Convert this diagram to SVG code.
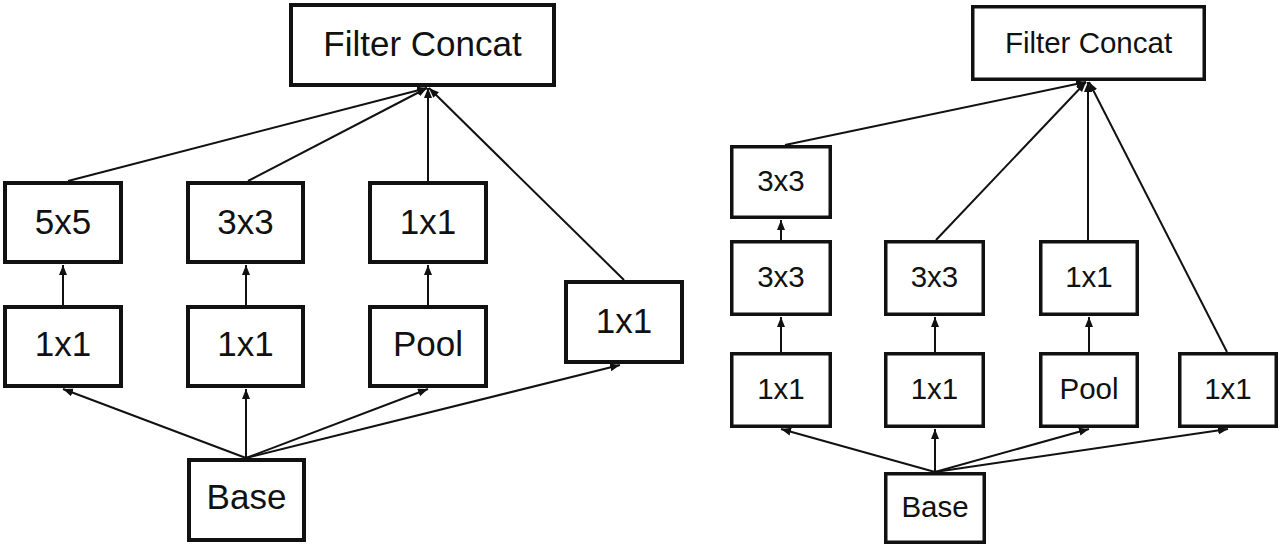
<svg xmlns="http://www.w3.org/2000/svg" width="1281" height="547" viewBox="0 0 1281 547">
  <style>
    .bg { fill: #ffffff; }
    .boxL { fill: #ffffff; stroke: #111; stroke-width: 4; }
    .boxR { fill: #ffffff; stroke: #111; stroke-width: 3.5; }
    .lblL { font-family: "Liberation Sans", Arial, sans-serif; font-size: 35px; fill: #111; text-anchor: middle; }
    .lblR { font-family: "Liberation Sans", Arial, sans-serif; font-size: 29.5px; fill: #111; text-anchor: middle; }
    .edge { stroke: #111; stroke-width: 2; fill: none; marker-end: url(#arrow); }
  </style>
  <defs>
    <marker id="arrow" markerUnits="userSpaceOnUse" markerWidth="12" markerHeight="10" refX="10" refY="4" orient="auto">
      <path d="M0,0 L10,4 L0,8 Z" fill="#111"/>
    </marker>
  </defs>
  <rect class="bg" x="0" y="0" width="1281" height="547"/>

  <!-- connectors -->
  <g id="connectors">
    <!-- left module -->
    <line class="edge" x1="246" y1="458" x2="63" y2="389"/>
    <line class="edge" x1="246" y1="458" x2="246" y2="389"/>
    <line class="edge" x1="246" y1="458" x2="428" y2="389"/>
    <line class="edge" x1="246" y1="458" x2="620" y2="365"/>
    <line class="edge" x1="63" y1="305" x2="63" y2="265"/>
    <line class="edge" x1="246" y1="305" x2="246" y2="265"/>
    <line class="edge" x1="428" y1="305" x2="428" y2="265"/>
    <line class="edge" x1="68" y1="181" x2="427" y2="88"/>
    <line class="edge" x1="248" y1="181" x2="427" y2="88"/>
    <line class="edge" x1="428" y1="181" x2="428" y2="88"/>
    <line class="edge" x1="624" y1="280" x2="429" y2="88"/>
    <!-- right module -->
    <line class="edge" x1="935" y1="472" x2="781" y2="429"/>
    <line class="edge" x1="935" y1="472" x2="935" y2="429"/>
    <line class="edge" x1="935" y1="472" x2="1089" y2="429"/>
    <line class="edge" x1="935" y1="472" x2="1228" y2="429"/>
    <line class="edge" x1="781" y1="352" x2="781" y2="317"/>
    <line class="edge" x1="935" y1="352" x2="935" y2="317"/>
    <line class="edge" x1="1089" y1="352" x2="1089" y2="317"/>
    <line class="edge" x1="781" y1="240" x2="781" y2="220"/>
    <line class="edge" x1="785" y1="145" x2="1086" y2="82"/>
    <line class="edge" x1="936" y1="240" x2="1086" y2="82"/>
    <line class="edge" x1="1088" y1="240" x2="1088" y2="82"/>
    <line class="edge" x1="1227" y1="352" x2="1089" y2="82"/>
  </g>

  <!-- left module nodes -->
  <g id="l-concat"><rect class="boxL" x="291" y="5" width="263" height="80"/><text class="lblL" x="422.5" y="56">Filter Concat</text></g>
  <g id="l-5x5"><rect class="boxL" x="5" y="183" width="116" height="79"/><text class="lblL" x="63" y="234">5x5</text></g>
  <g id="l-3x3"><rect class="boxL" x="188" y="183" width="115" height="79"/><text class="lblL" x="245.5" y="234">3x3</text></g>
  <g id="l-1x1-pool"><rect class="boxL" x="370" y="183" width="116" height="79"/><text class="lblL" x="428" y="234">1x1</text></g>
  <g id="l-1x1-a"><rect class="boxL" x="5" y="307" width="116" height="79"/><text class="lblL" x="63" y="356">1x1</text></g>
  <g id="l-1x1-b"><rect class="boxL" x="188" y="307" width="115" height="79"/><text class="lblL" x="245.5" y="356">1x1</text></g>
  <g id="l-pool"><rect class="boxL" x="370" y="307" width="116" height="79"/><text class="lblL" x="428" y="356">Pool</text></g>
  <g id="l-1x1-c"><rect class="boxL" x="566" y="282" width="116" height="80"/><text class="lblL" x="624" y="333">1x1</text></g>
  <g id="l-base"><rect class="boxL" x="189" y="460" width="115" height="80"/><text class="lblL" x="246.5" y="509">Base</text></g>

  <!-- right module nodes -->
  <g id="r-concat"><rect class="boxR" x="972.75" y="6.75" width="231.5" height="72.5"/><text class="lblR" x="1088.5" y="53">Filter Concat</text></g>
  <g id="r-3x3-top"><rect class="boxR" x="731.75" y="146.75" width="98.5" height="70.5"/><text class="lblR" x="781" y="191">3x3</text></g>
  <g id="r-3x3-a"><rect class="boxR" x="731.75" y="241.75" width="98.5" height="72.5"/><text class="lblR" x="781" y="287">3x3</text></g>
  <g id="r-3x3-b"><rect class="boxR" x="885.75" y="241.75" width="97.5" height="72.5"/><text class="lblR" x="934.5" y="287">3x3</text></g>
  <g id="r-1x1-pool"><rect class="boxR" x="1040.75" y="241.75" width="96.5" height="72.5"/><text class="lblR" x="1089" y="287">1x1</text></g>
  <g id="r-1x1-a"><rect class="boxR" x="731.75" y="353.75" width="98.5" height="72.5"/><text class="lblR" x="781" y="399">1x1</text></g>
  <g id="r-1x1-b"><rect class="boxR" x="885.75" y="353.75" width="97.5" height="72.5"/><text class="lblR" x="934.5" y="399">1x1</text></g>
  <g id="r-pool"><rect class="boxR" x="1040.75" y="353.75" width="96.5" height="72.5"/><text class="lblR" x="1089" y="399">Pool</text></g>
  <g id="r-1x1-c"><rect class="boxR" x="1179.75" y="353.75" width="96.5" height="72.5"/><text class="lblR" x="1228" y="399">1x1</text></g>
  <g id="r-base"><rect class="boxR" x="885.75" y="473.75" width="98.5" height="68.5"/><text class="lblR" x="935" y="517">Base</text></g>
</svg>
